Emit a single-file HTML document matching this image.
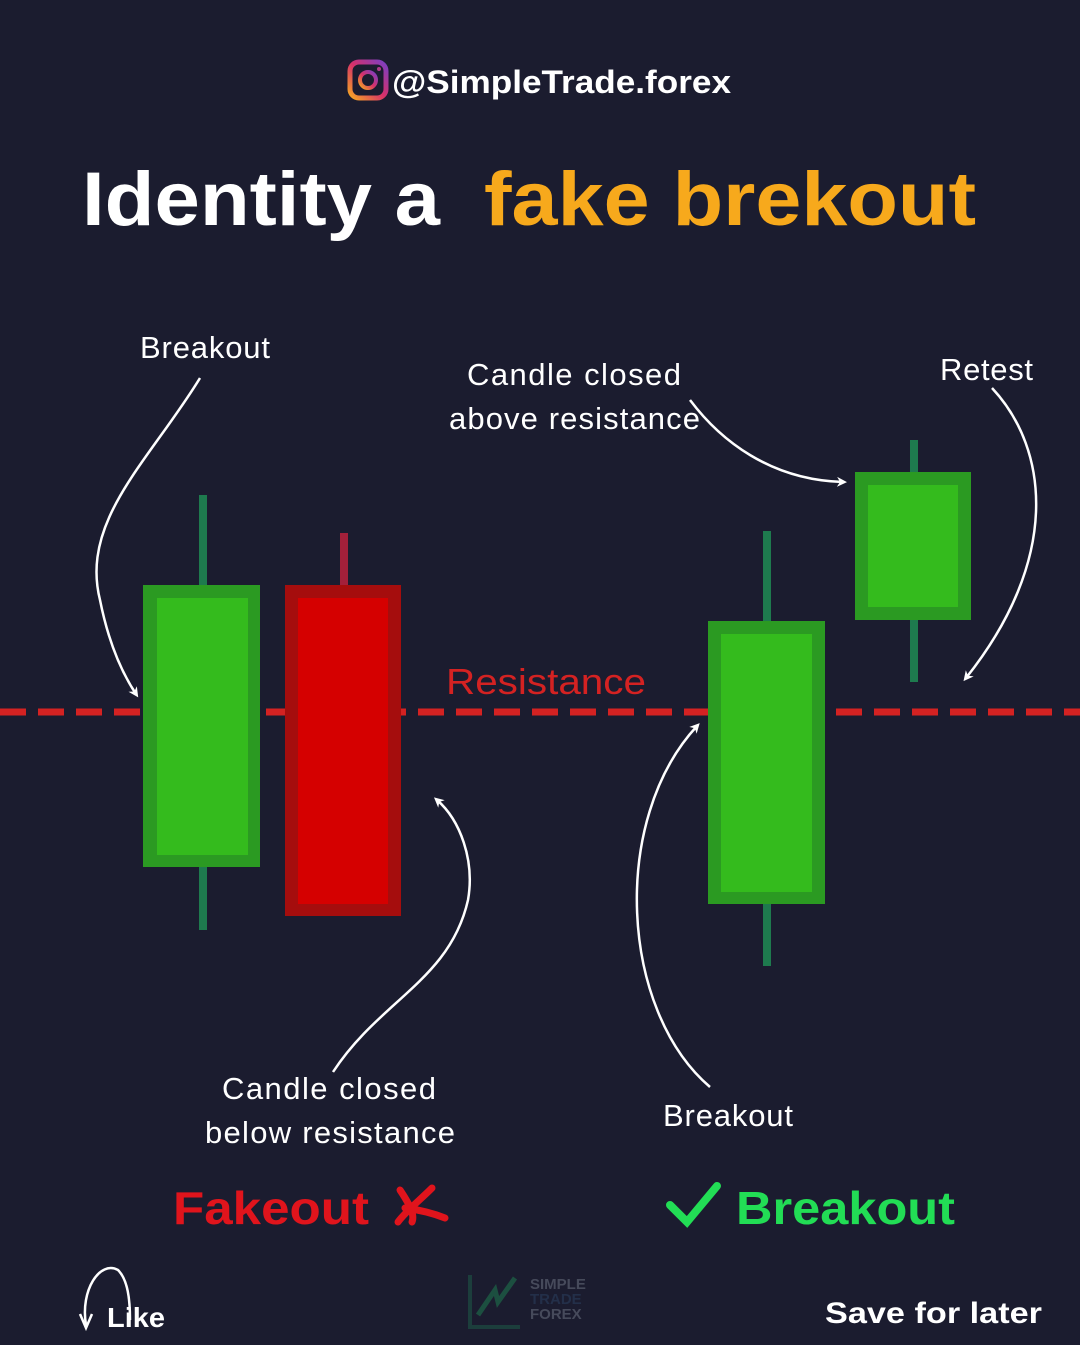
<!DOCTYPE html>
<html><head><meta charset="utf-8"><style>
body{margin:0;width:1080px;height:1340px;background:#1b1c2f;overflow:hidden;font-family:"Liberation Sans",sans-serif}
</style></head><body>
<svg width="1080" height="1340" viewBox="0 0 1080 1340" xmlns="http://www.w3.org/2000/svg">
<defs>
<linearGradient id="ig" x1="0" y1="1" x2="1" y2="0"><stop offset="0" stop-color="#f5a623"/><stop offset=".5" stop-color="#d6306a"/><stop offset="1" stop-color="#7b3fc4"/></linearGradient>
<marker id="ah" markerWidth="10" markerHeight="10" refX="6" refY="5" orient="auto" markerUnits="userSpaceOnUse"><path d="M0,0 L10,5 L0,10 L3,5 Z" fill="#fff"/></marker>
</defs>
<rect x="350" y="62" width="36" height="36" rx="9" fill="none" stroke="url(#ig)" stroke-width="5"/>
<circle cx="368" cy="80" r="8" fill="none" stroke="url(#ig)" stroke-width="4"/>
<circle cx="379" cy="69" r="2" fill="#b03a8a"/>
<text x="392" y="93" font-size="32" font-weight="bold" fill="#fff" textLength="339" lengthAdjust="spacingAndGlyphs">@SimpleTrade.forex</text>
<text x="82" y="225" font-size="76" font-weight="bold" fill="#fff" textLength="358" lengthAdjust="spacingAndGlyphs">Identity a</text>
<text x="484" y="225" font-size="76" font-weight="bold" fill="#f7a91c" textLength="492" lengthAdjust="spacingAndGlyphs">fake brekout</text>
<line x1="0" y1="712" x2="1080" y2="712" stroke="#d42222" stroke-width="7" stroke-dasharray="26 12"/>
<text x="446" y="694" font-size="36" fill="#d42222" textLength="200" lengthAdjust="spacingAndGlyphs">Resistance</text>
<g stroke="#1e7a4e" stroke-width="8"><line x1="203" y1="495" x2="203" y2="930"/><line x1="767" y1="531" x2="767" y2="966"/><line x1="914" y1="440" x2="914" y2="682"/></g>
<line x1="344" y1="533" x2="344" y2="590" stroke="#a3203a" stroke-width="8"/>
<rect x="143" y="585" width="117" height="282" fill="#2b9a22"/><rect x="157" y="598" width="91" height="257" fill="#34bb1d"/>
<rect x="285" y="585" width="116" height="331" fill="#a50d0d"/><rect x="298" y="598" width="90" height="306" fill="#d50000"/>
<rect x="708" y="621" width="117" height="283" fill="#2b9a22"/><rect x="721" y="634" width="91" height="258" fill="#34bb1d"/>
<rect x="855" y="472" width="116" height="148" fill="#2b9a22"/><rect x="868" y="485" width="90" height="122" fill="#34bb1d"/>
<g font-size="31" fill="#fff" lengthAdjust="spacingAndGlyphs">
<text x="140" y="358" textLength="130">Breakout</text>
<text x="467" y="385" textLength="214">Candle closed</text>
<text x="449" y="429" textLength="251">above resistance</text>
<text x="940" y="380" textLength="93">Retest</text>
<text x="222" y="1099" textLength="214">Candle closed</text>
<text x="205" y="1143" textLength="250">below resistance</text>
<text x="663" y="1126" textLength="130">Breakout</text>
</g>
<g fill="none" stroke="#fff" stroke-width="2.5" marker-end="url(#ah)">
<path d="M200,378 C150,460 80,520 100,600 C108,640 120,670 136,694"/>
<path d="M690,400 C720,440 770,480 843,482"/>
<path d="M992,388 C1050,450 1060,560 966,678"/>
<path d="M333,1072 C380,1000 450,980 468,900 C475,860 460,820 437,800"/>
<path d="M710,1087 C620,1010 610,820 697,726"/>
</g>
<text x="173" y="1224" font-size="46" font-weight="bold" fill="#e0141c" textLength="196" lengthAdjust="spacingAndGlyphs">Fakeout</text>
<path d="M400,1190 C410,1205 415,1215 412,1222 M432,1188 C420,1200 405,1212 398,1222 M405,1208 C420,1210 435,1214 445,1218" stroke="#e0141c" stroke-width="7" fill="none" stroke-linecap="round"/>
<path d="M670,1205 L687,1222 L717,1186" stroke="#22dd55" stroke-width="8" fill="none" stroke-linecap="round"/>
<text x="736" y="1224" font-size="46" font-weight="bold" fill="#22dd55" textLength="219" lengthAdjust="spacingAndGlyphs">Breakout</text>
<path d="M86,1325 C80,1290 100,1260 118,1270 C128,1280 130,1300 130,1320" stroke="#fff" stroke-width="2.5" fill="none"/>
<path d="M80,1314 L86,1328 L92,1314" stroke="#fff" stroke-width="2.5" fill="none"/>
<text x="107" y="1327" font-size="28" font-weight="bold" fill="#fff" textLength="58" lengthAdjust="spacingAndGlyphs">Like</text>
<text x="825" y="1323" font-size="30" font-weight="bold" fill="#fff" textLength="217" lengthAdjust="spacingAndGlyphs">Save for later</text>
<g opacity=".55"><path d="M470,1275 V1327 H520" stroke="#1e5a48" stroke-width="4" fill="none"/>
<path d="M478,1315 L495,1290 L498,1302 L515,1278" stroke="#1e7a4e" stroke-width="5" fill="none"/>
<text x="530" y="1289" font-size="15" font-weight="bold" fill="#6a7080">SIMPLE</text>
<text x="530" y="1304" font-size="15" font-weight="bold" fill="#2a4060">TRADE</text>
<text x="530" y="1319" font-size="15" font-weight="bold" fill="#6a7080">FOREX</text></g>
</svg>
</body></html>
